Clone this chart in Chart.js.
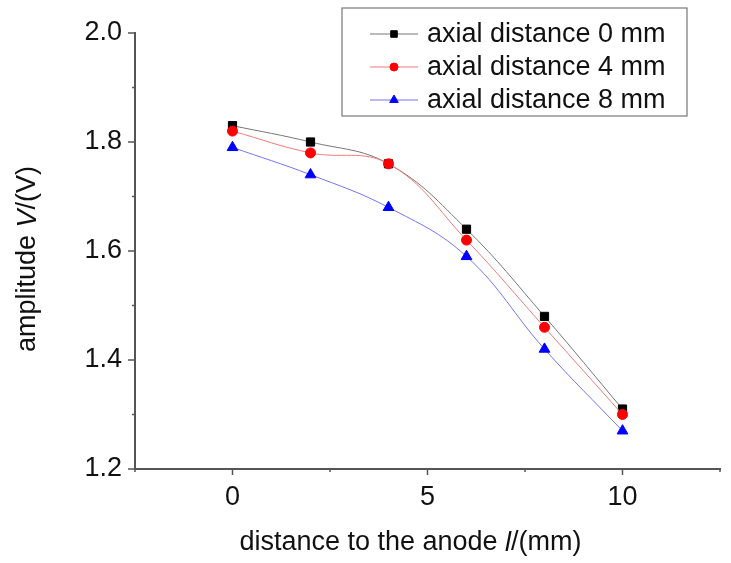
<!DOCTYPE html>
<html>
<head>
<meta charset="utf-8">
<title>amplitude vs distance to the anode</title>
<script src="https://cdn.jsdelivr.net/npm/chart.js@4.4.1/dist/chart.umd.min.js"></script>
<style>
    html, body { margin: 0; padding: 0; background: #fff; }
    #wrap { width: 731px; height: 563px; }
</style>
</head>
<body>
<div id="wrap"><canvas id="amplitude-chart" width="731" height="563"></canvas></div>
<script>
// Measured amplitude against distance to the anode
const distances = [0, 2, 4, 6, 8, 10];
const amplitudeAxial0 = [1.83, 1.80, 1.76, 1.64, 1.48, 1.31];
const amplitudeAxial4 = [1.82, 1.78, 1.76, 1.62, 1.46, 1.30];
const amplitudeAxial8 = [1.79, 1.74, 1.68, 1.59, 1.42, 1.27];
const seriesLabels = ['axial distance 0 mm', 'axial distance 4 mm', 'axial distance 8 mm'];

// Labelled ticks; the axes also carry unlabelled minor ticks in between
const xMajorTicks = [0, 5, 10];
const yMajorTicks = [1.2, 1.4, 1.6, 1.8, 2.0];

const FONT = 'Arial, "Liberation Sans", sans-serif';
const AXIS_COLOR = '#555';

const isMajor = (list, v) => list.some(m => Math.abs(m - v) < 1e-6);

const series = [
    { label: seriesLabels[0], values: amplitudeAxial0, marker: 'rect', radius: 5.8, color: '#000', line: '#777', order: 3 },
    { label: seriesLabels[1], values: amplitudeAxial4, marker: 'circle', radius: 5, color: '#f00', line: '#f47a7a', order: 2 },
    { label: seriesLabels[2], values: amplitudeAxial8, marker: 'triangle', radius: 6.2, color: '#00f', line: '#7474f2', order: 1 }
];

// Outward tick marks, long for labelled values and short for the rest
const axisTicks = {
    id: 'axisTicks',
    afterDraw(chart) {
        const { ctx, chartArea, scales } = chart;
        ctx.save();
        ctx.strokeStyle = AXIS_COLOR;
        ctx.lineWidth = 1.5;
        scales.x.ticks.forEach(t => {
            const px = scales.x.getPixelForValue(t.value);
            const len = isMajor(xMajorTicks, t.value) ? 6 : 3;
            ctx.beginPath();
            ctx.moveTo(px, chartArea.bottom);
            ctx.lineTo(px, chartArea.bottom + len);
            ctx.stroke();
        });
        scales.y.ticks.forEach(t => {
            const py = scales.y.getPixelForValue(t.value);
            const len = isMajor(yMajorTicks, t.value) ? 7 : 3;
            ctx.beginPath();
            ctx.moveTo(chartArea.left, py);
            ctx.lineTo(chartArea.left - len, py);
            ctx.stroke();
        });
        ctx.restore();
    }
};

// Axis titles with an italic symbol inside
function drawRichText(ctx, parts, size) {
    const fonts = parts.map(p => `${p.italic ? 'italic ' : ''}${size}px ${FONT}`);
    const widths = parts.map((p, i) => { ctx.font = fonts[i]; return ctx.measureText(p.text).width; });
    let x = -widths.reduce((a, b) => a + b, 0) / 2;
    parts.forEach((p, i) => {
        ctx.font = fonts[i];
        ctx.fillText(p.text, x, 0);
        x += widths[i];
    });
}

const axisTitles = {
    id: 'axisTitles',
    afterDraw(chart) {
        const { ctx, chartArea } = chart;
        ctx.save();
        ctx.fillStyle = '#111';
        ctx.textAlign = 'left';
        ctx.textBaseline = 'middle';

        ctx.save();
        ctx.translate((chartArea.left + chartArea.right) / 2 - 17, chartArea.bottom + 74);
        drawRichText(ctx, [
            { text: 'distance to the anode ' },
            { text: 'l', italic: true },
            { text: '/(mm)' }
        ], 27);
        ctx.restore();

        ctx.save();
        ctx.translate(28, (chartArea.top + chartArea.bottom) / 2 + 8);
        ctx.rotate(-Math.PI / 2);
        drawRichText(ctx, [
            { text: 'amplitude ' },
            { text: 'V', italic: true },
            { text: '/(V)' }
        ], 27);
        ctx.restore();

        ctx.restore();
    }
};

// Boxed legend in the upper right corner
const boxedLegend = {
    id: 'boxedLegend',
    afterDraw(chart) {
        const { ctx } = chart;
        const box = { left: 342, top: 8, width: 345, height: 108 };
        ctx.save();
        ctx.strokeStyle = '#777';
        ctx.lineWidth = 1.2;
        ctx.strokeRect(box.left, box.top, box.width, box.height);

        ctx.font = `27px ${FONT}`;
        ctx.textBaseline = 'middle';
        ctx.textAlign = 'left';
        series.forEach((s, i) => {
            const y = 34 + i * 33;
            ctx.strokeStyle = s.line;
            ctx.lineWidth = 1;
            ctx.beginPath();
            ctx.moveTo(370, y);
            ctx.lineTo(418, y);
            ctx.stroke();

            ctx.fillStyle = s.color;
            ctx.strokeStyle = s.color;
            Chart.helpers.drawPoint(ctx, {
                pointStyle: s.marker,
                radius: s.radius * 0.8,
                rotation: 0,
                borderWidth: 1
            }, 394, y);

            ctx.fillStyle = '#111';
            ctx.fillText(s.label, 427, y + 1);
        });
        ctx.restore();
    }
};

const chartData = {
    datasets: series.map(s => ({
        label: s.label,
        data: distances.map((d, i) => ({ x: d, y: s.values[i] })),
        borderColor: s.line,
        borderWidth: 1,
        backgroundColor: s.color,
        pointBackgroundColor: s.color,
        pointBorderColor: s.color,
        pointBorderWidth: 1,
        pointStyle: s.marker,
        pointRadius: s.radius,
        tension: 0.4,
        order: s.order,
        clip: false
    }))
};

new Chart(document.getElementById('amplitude-chart'), {
    type: 'line',
    data: chartData,
    options: {
        responsive: false,
        animation: false,
        devicePixelRatio: 1,
        layout: { padding: { top: 33, right: 11, left: 0, bottom: 0 } },
        plugins: {
            legend: { display: false },
            tooltip: { enabled: false }
        },
        scales: {
            x: {
                type: 'linear',
                min: -2.5,
                max: 12.5,
                grid: { display: false },
                border: { display: true, color: AXIS_COLOR, width: 2 },
                ticks: {
                    stepSize: 2.5,
                    autoSkip: false,
                    maxRotation: 0,
                    padding: 4,
                    color: '#111',
                    font: { family: FONT, size: 27 },
                    callback: v => isMajor(xMajorTicks, v) ? String(v) : ''
                },
                afterFit: scale => { scale.height = 94; }
            },
            y: {
                type: 'linear',
                min: 1.2,
                max: 2.0,
                grid: { display: false },
                border: { display: true, color: AXIS_COLOR, width: 2 },
                ticks: {
                    stepSize: 0.1,
                    autoSkip: false,
                    padding: 5,
                    color: '#111',
                    font: { family: FONT, size: 27 },
                    callback: v => isMajor(yMajorTicks, v) ? v.toFixed(1) : ''
                },
                afterFit: scale => { scale.width = 135; }
            }
        }
    },
    plugins: [axisTicks, axisTitles, boxedLegend]
});
</script>
</body>
</html>
